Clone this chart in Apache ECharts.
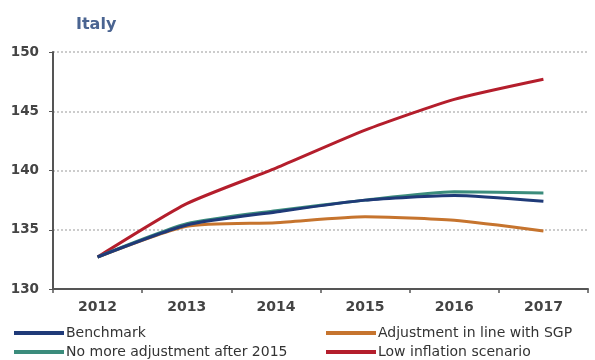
<!DOCTYPE html>
<html><head><meta charset="utf-8">
<script src="https://cdn.jsdelivr.net/npm/echarts@6/dist/echarts.min.js"></script>
<style>html,body{margin:0;padding:0;background:#fff}#c{width:595px;height:360px}</style>
</head><body><div id="c"></div>
<script>
const years = ['2012','2013','2014','2015','2016','2017'];
const benchmark = [132.7, 135.4, 136.5, 137.5, 137.9, 137.4];
const sgp = [132.7, 135.3, 135.6, 136.1, 135.8, 134.9];
const noMoreAdj = [132.7, 135.5, 136.6, 137.5, 138.2, 138.1];
const lowInfl = [132.7, 137.2, 140.2, 143.4, 146.0, 147.7];
const yTicks = [130, 135, 140, 145, 150];

const names = ['Benchmark','Adjustment in line with SGP','No more adjustment after 2015','Low inflation scenario'];
const colors = ['#1f3a78','#c6742e','#3b8c7c','#b41e2c'];
const datas = [benchmark, sgp, noMoreAdj, lowInfl];
const FONT = 'DejaVu Sans, Verdana, sans-serif';

const chart = echarts.init(document.getElementById('c'));
const legendText = {color:'#333', fontSize:14, fontFamily:FONT, padding:[0,0,0,-3]};
const legendPos = [[14,326],[326,326],[14,345],[326,345]];
chart.setOption({
  animation:false,
  title:{text:'Italy', left:71, top:12, textStyle:{color:'#4a6491', fontSize:16, fontWeight:'bold', fontFamily:FONT}},
  grid:{left:53, right:7, top:52, bottom:71},
  legend: names.map((n,i)=>({data:[n], left:legendPos[i][0], top:legendPos[i][1], padding:0,
    itemWidth:50, itemHeight:4, icon:'rect', textStyle:legendText})),
  xAxis:{type:'category', data:years, boundaryGap:true,
    axisLine:{lineStyle:{color:'#555', width:2}},
    axisTick:{show:true, length:4, lineStyle:{color:'#555', width:1.5}},
    axisLabel:{color:'#444', fontSize:14, fontWeight:'bold', margin:11, fontFamily:FONT}},
  yAxis:{type:'value', min:130, max:150, interval:5,
    axisLine:{show:true, lineStyle:{color:'#555', width:2}},
    axisTick:{show:true, length:4, lineStyle:{color:'#555'}},
    splitLine:{show:true, lineStyle:{color:'#ccc', type:'dotted', width:2}},
    axisLabel:{color:'#444', fontSize:13.5, fontWeight:'bold', margin:14, fontFamily:FONT,
      formatter:v=>yTicks.includes(v)?String(v):''}},
  series: names.map((n,i)=>({name:n, type:'line', data:datas[i], smooth:0.2, symbol:'none',
    lineStyle:{color:colors[i], width:3}, itemStyle:{color:colors[i]}, z: i===0?4:(i===2?3:2)}))
});
</script></body></html>
